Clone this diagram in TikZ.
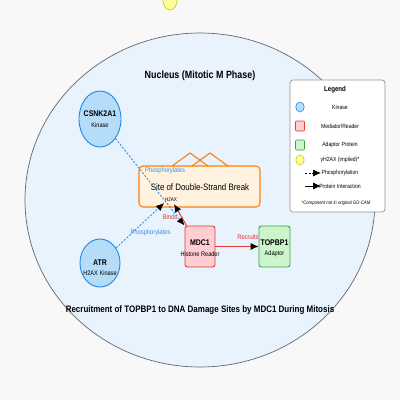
\documentclass[tikz,border=0pt]{standalone}
\usepackage{fontspec}
\setmainfont{Liberation Sans}
\newfontfamily\cond{Liberation Sans}[FakeStretch=0.85]
\usetikzlibrary{arrows.meta,shapes.geometric}
\definecolor{bgc}{HTML}{F8F8F8}
\definecolor{nucfill}{HTML}{E8F3FD}
\definecolor{nucdraw}{HTML}{666666}
\definecolor{kinfill}{HTML}{B5DDFA}
\definecolor{kindraw}{HTML}{1E88E5}
\definecolor{medfill}{HTML}{FFCDD2}
\definecolor{meddraw}{HTML}{E53935}
\definecolor{adfill}{HTML}{CCF5CC}
\definecolor{addraw}{HTML}{43A047}
\definecolor{dsbfill}{HTML}{FFF3E0}
\definecolor{dsbdraw}{HTML}{FF7F0E}
\definecolor{yfill}{HTML}{FFFF99}
\definecolor{ydraw}{HTML}{C8C800}
\definecolor{phcol}{HTML}{3A8EE0}
\definecolor{redtxt}{HTML}{E03030}
\tikzset{
  kin/.style={ellipse,draw=kindraw,fill=kinfill,line width=0.9pt,inner sep=0pt,align=center},
  protbox/.style={rectangle,rounded corners=2.5pt,line width=0.9pt,inner sep=0pt,align=center},
  phos/.style={draw=phcol,dashed,dash pattern=on 2pt off 1.6pt,line width=0.9pt,-{Latex[length=8pt,width=7pt,color=black]}},
  inter/.style={draw=meddraw,line width=1pt,-{Latex[length=8pt,width=7pt,color=black]}},
  lbl/.style={font=\cond\fontsize{6.8}{7}\selectfont,inner sep=0pt},
  legtxt/.style={font=\cond\fontsize{6}{6}\selectfont,inner sep=0pt,anchor=center},
  nmain/.style={font=\cond\bfseries\fontsize{8.2}{9}\selectfont,inner sep=0pt},
  nsub/.style={font=\cond\fontsize{6.6}{7}\selectfont,inner sep=0pt},
}
\begin{document}
\begin{tikzpicture}[x=1pt,y=-1pt]
\useasboundingbox (0,0) rectangle (400,400);
\fill[bgc] (0,0) rectangle (400,400);
% implied gH2AX (top, cut off)
\node[ellipse,draw=ydraw,fill=yfill,line width=0.6pt,minimum width=14pt,minimum height=20pt,inner sep=0pt] (yh) at (170,0) {};
% nucleus
\node[ellipse,draw=nucdraw,fill=nucfill,line width=0.7pt,minimum width=350pt,minimum height=334pt,inner sep=0pt] (nuc) at (200,200) {};
\node[font=\cond\bfseries\fontsize{10.5}{12}\selectfont,inner sep=0pt] (nuct) at (200,76) {Nucleus (Mitotic M Phase)};
% DSB site
\node[protbox,draw=dsbdraw,fill=dsbfill,line width=1.1pt,rounded corners=4pt,minimum width=121pt,minimum height=41pt] (dsb) at (199.5,186.5) {};
\node[font=\cond\fontsize{9.3}{10}\selectfont,inner sep=0pt] (dsbt) at (200,187) {Site of Double-Strand Break};
\node[font=\cond\fontsize{5.4}{6}\selectfont,inner sep=0pt] (h2ax) at (171,200) {H2AX};
\coordinate (b1) at (172,166);
\coordinate (b2) at (190,153);
\coordinate (b3) at (208,166);
\coordinate (b4) at (192,166);
\coordinate (b5) at (210,153);
\coordinate (b6) at (228,166);
\draw[dsbdraw,line width=1.1pt,line join=miter] (b1) -- (b2) -- (b3) (b4) -- (b5) -- (b6);
\coordinate (h2axpt) at (164,203);
\coordinate (bindpt) at (174,204);
% proteins
\node[kin,minimum width=42pt,minimum height=56pt] (csnk) at (100,119) {};
\node[nmain] (csnkt) at (100,113.5) {CSNK2A1};
\node[nsub] (csnks) at (100,125) {Kinase};
\node[kin,minimum width=40pt,minimum height=48pt] (atr) at (100,263) {};
\node[nmain] (atrt) at (100,263) {ATR};
\node[nsub] (atrs) at (100,273.5) {H2AX Kinase};
\node[protbox,draw=meddraw,fill=medfill,minimum width=30pt,minimum height=41pt] (mdc) at (200,246.5) {};
\node[nmain] (mdct) at (200,242.5) {MDC1};
\node[nsub] (mdcs) at (200,254) {Histone Reader};
\node[protbox,draw=addraw,fill=adfill,minimum width=31pt,minimum height=41pt] (top) at (274.5,246.5) {};
\node[nmain] (topt) at (274.5,242.5) {TOPBP1};
\node[nsub] (tops) at (274.5,254) {Adaptor};
% connectors
\draw[phos] (csnk) -- (mdc.north west);
\node[lbl,text=phcol,anchor=west] (l1) at (145,171) {Phosphorylates};
\draw[phos] (atr) -- (h2axpt);
\node[lbl,text=phcol] (l2) at (150.5,233) {Phosphorylates};
\draw[inter] (mdc.north west) ++(2,0) coordinate (ms) -- (bindpt);
\node[lbl,text=redtxt] (l3) at (170,217) {Binds};
\draw[inter] (mdc) -- (top);
\node[lbl,text=redtxt] (l4) at (248,237) {Recruits};
% title
\node[font=\cond\bfseries\fontsize{9.4}{12}\selectfont,inner sep=0pt] (title) at (200,310) {Recruitment of TOPBP1 to DNA Damage Sites by MDC1 During Mitosis};
% legend
\node[draw=nucdraw!70,fill=white,rounded corners=3pt,line width=0.7pt,minimum width=95pt,minimum height=132pt,inner sep=0pt] (leg) at (337.5,146) {};
\node[font=\cond\bfseries\fontsize{7.2}{8}\selectfont,inner sep=0pt] (legt) at (335,90) {Legend};
\node[ellipse,draw=kindraw,fill=kinfill,line width=0.6pt,minimum width=8.5pt,minimum height=10pt,inner sep=0pt] (lk) at (300,107) {};
\node[legtxt] (lkt) at (340,107) {Kinase};
\node[rectangle,rounded corners=1pt,draw=meddraw,fill=medfill,line width=0.6pt,minimum width=9pt,minimum height=10pt,inner sep=0pt] (lm) at (300,126) {};
\node[legtxt] (lmt) at (340,126) {Mediator/Reader};
\node[rectangle,rounded corners=1pt,draw=addraw,fill=adfill,line width=0.6pt,minimum width=9pt,minimum height=10pt,inner sep=0pt] (la) at (300,145) {};
\node[legtxt] (lat) at (340,145) {Adaptor Protein};
\node[ellipse,draw=ydraw,fill=yfill,line width=0.6pt,minimum width=8.5pt,minimum height=10pt,inner sep=0pt] (ly) at (300,160) {};
\node[legtxt] (lyt) at (340,160) {γH2AX (implied)*};
\coordinate (lp1) at (305,173);
\coordinate (lp2) at (321,173);
\draw[black,dashed,dash pattern=on 2pt off 1.5pt,line width=0.8pt,-{Latex[length=8pt,width=7pt]}] (lp1) -- (lp2);
\node[legtxt] (lpt) at (340,172.5) {Phosphorylation};
\coordinate (li1) at (305,186);
\coordinate (li2) at (321,186);
\draw[black,line width=0.8pt,-{Latex[length=8pt,width=7pt]}] (li1) -- (li2);
\node[legtxt] (lit) at (340,186) {Protein Interaction};
\node[font=\cond\itshape\fontsize{5}{5}\selectfont,inner sep=0pt] (lnote) at (336,203) {*Component not in original GO-CAM};
\end{tikzpicture}
\end{document}
